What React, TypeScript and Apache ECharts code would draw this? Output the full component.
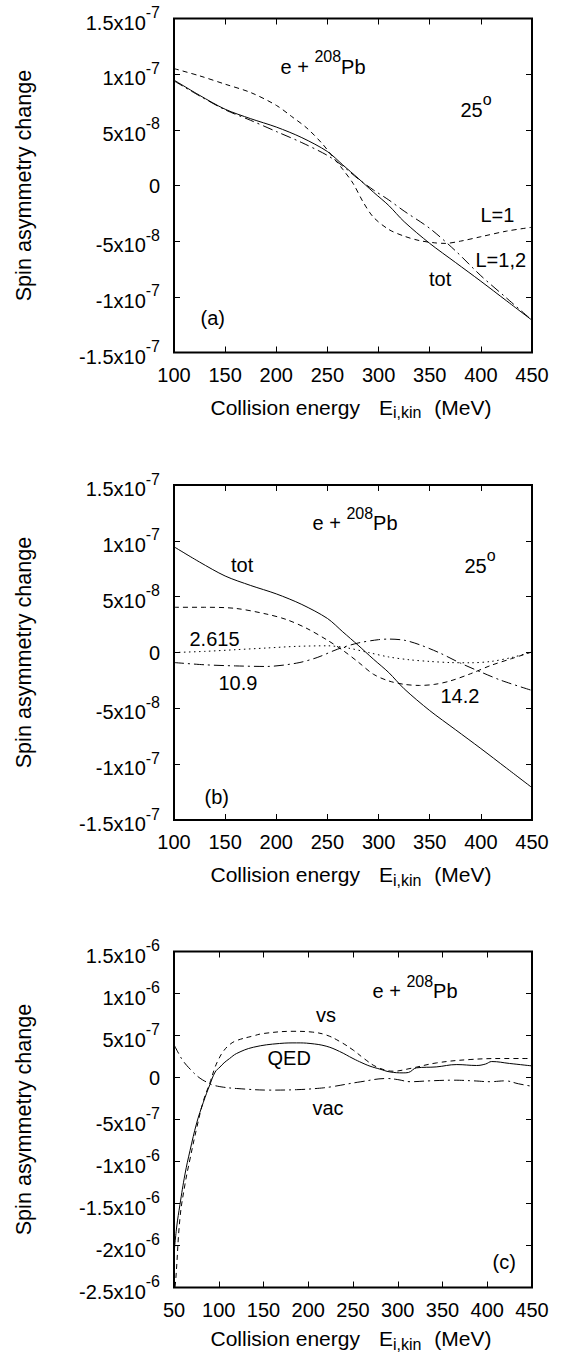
import React, { useEffect, useRef } from "react";
import * as echarts from "echarts";

const FONT = "Liberation Sans";

// ---------- tick labels ----------
const xTicksAB = [100, 150, 200, 250, 300, 350, 400, 450];
const xTicksC = [50, 100, 150, 200, 250, 300, 350, 400, 450];
// panels (a),(b): values plotted in units of 1e-8, from -15 to 15 step 5
const yTickLabelsAB = ["-1.5x10^-7", "-1x10^-7", "-5x10^-8", "0", "5x10^-8", "1x10^-7", "1.5x10^-7"];
// panel (c): values plotted in units of 1e-7, from -25 to 15 step 5
const yTickLabelsC = ["-2.5x10^-6", "-2x10^-6", "-1.5x10^-6", "-1x10^-6", "-5x10^-7", "0", "5x10^-7", "1x10^-6", "1.5x10^-6"];

// ---------- panel (a) & (b): total (units 1e-8) ----------
const totE = [100, 125, 150, 175, 200, 225, 250, 265, 280, 295, 310, 325, 350, 375, 400, 425, 450];
const totV = [9.47, 8.1, 6.85, 6.0, 5.25, 4.3, 3.05, 1.85, 0.65, -0.6, -1.8, -3.25, -5.2, -6.9, -8.6, -10.35, -12.1];

// panel (a): L=1 (dashed)
const l1E = [100, 125, 150, 175, 200, 215, 230, 245, 255, 265, 275, 285, 295, 310, 325, 340, 355, 365, 380, 400, 425, 450];
const l1V = [10.5, 9.85, 9.1, 8.35, 7.2, 6.2, 5.15, 3.75, 2.6, 1.45, 0.2, -1.5, -2.85, -3.95, -4.55, -4.95, -5.15, -5.2, -5.0, -4.6, -4.1, -3.75];

// panel (a): L=1,2 (dash-dot)
const l12E = [100, 125, 150, 175, 200, 225, 250, 265, 280, 295, 310, 325, 350, 375, 400, 425, 450];
const l12V = [9.4, 8.05, 6.8, 5.85, 4.85, 3.85, 2.7, 1.75, 0.6, -0.4, -1.3, -2.3, -3.85, -5.85, -8.1, -10.1, -12.1];

// panel (b): 2.615 (dotted)
const b2615E = [100, 130, 160, 190, 220, 250, 270, 290, 310, 330, 350, 370, 390, 410, 430, 450];
const b2615V = [0.0, 0.1, 0.25, 0.4, 0.55, 0.6, 0.4, 0.0, -0.4, -0.65, -0.8, -0.9, -0.92, -0.8, -0.45, 0.05];

// panel (b): 10.9 (dash-dot)
const b109E = [100, 130, 160, 190, 220, 240, 260, 280, 300, 310, 325, 340, 360, 380, 400, 420, 450];
const b109V = [-0.9, -1.1, -1.2, -1.25, -0.95, -0.45, 0.3, 0.85, 1.15, 1.2, 1.1, 0.7, -0.05, -0.95, -1.75, -2.5, -3.4];

// panel (b): 14.2 (dashed)
const b142E = [100, 130, 160, 190, 210, 230, 250, 265, 280, 295, 310, 325, 340, 355, 370, 390, 410, 430, 450];
const b142V = [4.05, 4.05, 3.95, 3.45, 2.95, 2.15, 1.1, 0.2, -0.85, -1.95, -2.55, -2.85, -2.95, -2.85, -2.55, -1.9, -1.15, -0.55, 0.05];

// ---------- panel (c) (units 1e-7) ----------
const qedE = [50, 53, 56.7, 62.3, 67.9, 75.4, 82.8, 90.2, 96, 101.4, 106, 112, 120, 138.6, 168, 187, 202, 220, 235, 250, 260, 269, 280, 291, 306, 312, 321, 343, 366, 388, 398, 405, 425, 450];
const qedV = [-21, -17.8, -15.1, -11.5, -8.7, -5.4, -2.95, -0.82, 0.65, 1.25, 1.75, 2.25, 2.86, 3.6, 4.05, 4.12, 4.05, 3.73, 3.1, 2.26, 1.75, 1.35, 1.0, 0.67, 0.55, 0.6, 1.15, 1.26, 1.54, 1.43, 1.6, 1.9, 1.67, 1.38];

const vsE = [50, 52, 56.7, 62.3, 67.9, 75.4, 82.8, 90.2, 95.8, 100, 105, 112, 120, 138.6, 150, 183, 205, 220.6, 235, 250.4, 263, 276.5, 295, 313.7, 343.5, 380.8, 418, 450];
const vsV = [-26, -24, -16.7, -12.7, -9.7, -6.0, -2.8, -0.6, 1.2, 2.2, 3.1, 3.9, 4.4, 4.95, 5.24, 5.5, 5.4, 5.04, 4.3, 3.25, 2.2, 1.26, 0.75, 1.07, 1.74, 2.14, 2.26, 2.26];

const vacE = [50, 55, 60, 68, 78, 90, 94, 105, 120, 157, 187, 210, 225, 258, 288, 300, 314, 335, 362, 385, 403, 420, 435, 450];
const vacV = [3.9, 2.9, 2.0, 1.0, 0.0, -0.75, -0.92, -1.15, -1.31, -1.5, -1.45, -1.3, -1.12, -0.52, -0.12, -0.25, -0.5, -0.4, -0.32, -0.4, -0.5, -0.4, -0.75, -1.05];

// ---------- styles ----------
const DASHED = [5, 4];
const DOTTED = [1.5, 3.5];
const DASHDOT = [10, 4, 2, 4];

const axisRich = {
  m: { fontSize: 20, fontFamily: FONT, color: "#000", verticalAlign: "bottom" },
  s: { fontSize: 16, fontFamily: FONT, color: "#000", verticalAlign: "top", padding: [0, 0, 12, 0] },
};

const gRich = {
  m: { fontSize: 20, fontFamily: FONT, fill: "#000", verticalAlign: "bottom" },
  s: { fontSize: 16, fontFamily: FONT, fill: "#000", verticalAlign: "top", padding: [0, 0, 12, 0] },
  mt: { fontSize: 21, fontFamily: FONT, fill: "#000", verticalAlign: "top" },
  mtE: { fontSize: 21, fontFamily: FONT, fill: "#000", verticalAlign: "top", padding: [0, 0, 0, 19] },
  mtM: { fontSize: 21, fontFamily: FONT, fill: "#000", verticalAlign: "top", padding: [0, 0, 0, 13] },
  b: { fontSize: 16, fontFamily: FONT, fill: "#000", verticalAlign: "bottom", padding: [8, 0, 0, 0] },
};

const tickStyle = { show: true, inside: true, length: 6, lineStyle: { color: "#000", width: 1 } };

function xAx(gi: number, ticks: number[], pos: string, labels: boolean) {
  return {
    type: "value",
    gridIndex: gi,
    position: pos,
    min: ticks[0],
    max: ticks[ticks.length - 1],
    interval: ticks[1] - ticks[0],
    axisLine: { show: false, onZero: false },
    axisTick: tickStyle,
    splitLine: { show: false },
    axisLabel: labels
      ? {
          show: true,
          margin: 12,
          fontSize: 20,
          fontFamily: FONT,
          color: "#000",
          showMinLabel: true,
          showMaxLabel: true,
          hideOverlap: false,
          formatter: (v: number) => {
            const i = ticks.findIndex((t) => Math.abs(t - v) < 1e-6);
            return i >= 0 ? String(ticks[i]) : "";
          },
        }
      : { show: false },
  };
}

function yAx(gi: number, labels: string[], min: number, interval: number, pos: string, show: boolean) {
  const max = min + interval * (labels.length - 1);
  return {
    type: "value",
    gridIndex: gi,
    position: pos,
    min,
    max,
    interval,
    axisLine: { show: false, onZero: false },
    axisTick: tickStyle,
    splitLine: { show: false },
    axisLabel: show
      ? {
          show: true,
          margin: 14,
          showMinLabel: true,
          showMaxLabel: true,
          hideOverlap: false,
          formatter: (v: number) => {
            const i = Math.round((v - min) / interval);
            const lab = labels[i] ?? "";
            const parts = lab.split("^");
            return parts.length > 1 ? `{m|${parts[0]}}{s|${parts[1]}}` : `{m|${parts[0]}}`;
          },
          rich: axisRich,
        }
      : { show: false },
  };
}

function ln(gi: number, E: number[], V: number[], dash: any, smooth = 0.3) {
  return {
    type: "line",
    xAxisIndex: gi * 2,
    yAxisIndex: gi * 2,
    data: E.map((e, i) => [e, V[i]]),
    showSymbol: false,
    symbol: "none",
    smooth,
    clip: true,
    silent: true,
    lineStyle: { color: "#000", width: 1, type: dash },
  };
}

function txt(x: number, y: number, text: string, extra: any = {}) {
  return {
    type: "text",
    x,
    y,
    silent: true,
    z: 100,
    style: {
      text,
      fill: "#000",
      fontSize: 20,
      fontFamily: FONT,
      align: "left",
      verticalAlign: "middle",
      rich: gRich,
      ...extra,
    },
  };
}

function buildOption() {
  const grids = [
    { left: 174, top: 18.5, width: 358, height: 334 },
    { left: 174, top: 485, width: 358, height: 335 },
    { left: 174, top: 951.5, width: 358, height: 336 },
  ].map((g) => ({ ...g, show: true, borderColor: "#000", borderWidth: 2, backgroundColor: "transparent" }));

  const xAxis = [
    xAx(0, xTicksAB, "bottom", true),
    xAx(0, xTicksAB, "top", false),
    xAx(1, xTicksAB, "bottom", true),
    xAx(1, xTicksAB, "top", false),
    xAx(2, xTicksC, "bottom", true),
    xAx(2, xTicksC, "top", false),
  ];
  const yAxis = [
    yAx(0, yTickLabelsAB, -15, 5, "left", true),
    yAx(0, yTickLabelsAB, -15, 5, "right", false),
    yAx(1, yTickLabelsAB, -15, 5, "left", true),
    yAx(1, yTickLabelsAB, -15, 5, "right", false),
    yAx(2, yTickLabelsC, -25, 5, "left", true),
    yAx(2, yTickLabelsC, -25, 5, "right", false),
  ];

  const series = [
    ln(0, totE, totV, "solid"),
    ln(0, l1E, l1V, DASHED),
    ln(0, l12E, l12V, DASHDOT),
    ln(1, totE, totV, "solid"),
    ln(1, b142E, b142V, DASHED),
    ln(1, b2615E, b2615V, DOTTED),
    ln(1, b109E, b109V, DASHDOT),
    ln(2, qedE, qedV, "solid", 0.4),
    ln(2, vsE, vsV, DASHED, 0.4),
    ln(2, vacE, vacV, DASHDOT, 0.4),
  ];

  const yTitleCenters = [185.5, 652.5, 1119.5];
  const xTitleY = [408.5, 876, 1340];
  const graphic: any[] = [];
  yTitleCenters.forEach((cy) => {
    graphic.push({
      type: "text",
      x: 23,
      y: cy,
      rotation: Math.PI / 2,
      silent: true,
      style: { text: "Spin asymmetry change", fill: "#000", fontSize: 21.6, fontFamily: FONT, align: "center", verticalAlign: "middle" },
    });
  });
  xTitleY.forEach((ty) => {
    graphic.push(txt(210.5, ty, "{mt|Collision energy}{mtE|E}{b|i,kin}{mtM|(MeV)}"));
  });

  // panel (a)
  graphic.push(txt(280.5, 62.5, "{m|e + }{s|208}{m|Pb}"));
  graphic.push(txt(460.5, 105.7, "{m|25}{s|o}"));
  graphic.push(txt(480.5, 214.7, "L=1"));
  graphic.push(txt(475.5, 260.3, "L=1,2"));
  graphic.push(txt(429, 279, "tot"));
  graphic.push(txt(200.5, 318, "(a)"));
  // panel (b)
  graphic.push(txt(312.5, 519, "{m|e + }{s|208}{m|Pb}"));
  graphic.push(txt(231, 564.7, "tot"));
  graphic.push(txt(464.5, 561.7, "{m|25}{s|o}"));
  graphic.push(txt(189.5, 639, "2.615"));
  graphic.push(txt(218.5, 683, "10.9"));
  graphic.push(txt(440.5, 696.3, "14.2"));
  graphic.push(txt(204.5, 797, "(b)"));
  // panel (c)
  graphic.push(txt(372.5, 987.3, "{m|e + }{s|208}{m|Pb}"));
  graphic.push(txt(316, 1014.7, "vs"));
  graphic.push(txt(267.5, 1058, "QED"));
  graphic.push(txt(312.5, 1108, "vac"));
  graphic.push(txt(492.5, 1262, "(c)"));

  return {
    animation: false,
    backgroundColor: "#fff",
    grid: grids,
    xAxis,
    yAxis,
    series,
    graphic,
  };
}

export default function App() {
  const ref = useRef<HTMLDivElement>(null);
  useEffect(() => {
    if (!ref.current) return;
    const chart = echarts.init(ref.current, undefined, { renderer: "svg" });
    chart.setOption(buildOption() as any);
    return () => chart.dispose();
  }, []);
  return (
    <div
      ref={ref}
      style={{ position: "absolute", left: 0, top: 0, width: 571, height: 1353, background: "#fff" }}
    />
  );
}
